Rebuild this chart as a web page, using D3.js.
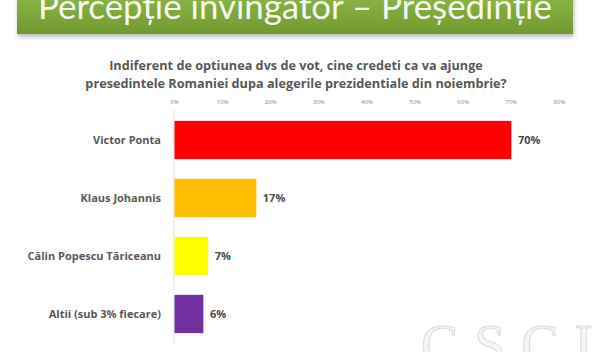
<!DOCTYPE html>
<html>
<head>
<meta charset="utf-8">
<script src="https://cdn.jsdelivr.net/npm/d3@7"></script>
<style>
  body { margin: 0; background: #fff; }
  svg { display: block; }
</style>
</head>
<body>
<div id="chart"></div>
<script>
const categories = ["Victor Ponta", "Klaus Johannis", "Călin Popescu Tăriceanu", "Altii (sub 3% fiecare)"];
const values = [70, 17, 7, 6];
const colors = ["#ff0000", "#ffc000", "#ffff00", "#7030a0"];
const ticks = [0, 10, 20, 30, 40, 50, 60, 70, 80];
const bannerTitle = "Percepție învingător – Președinție";
const question = ["Indiferent de optiunea dvs de vot, cine credeti ca va ajunge",
                  "presedintele Romaniei dupa alegerile prezidentiale din noiembrie?"];

const W = 600, H = 352;
const svg = d3.select("#chart").append("svg").attr("width", W).attr("height", H);

// banner with gradient + soft shadow
const defs = svg.append("defs");
const grad = defs.append("linearGradient").attr("id", "bg").attr("x1", 0).attr("y1", 0).attr("x2", 0).attr("y2", 1);
grad.append("stop").attr("offset", "0%").attr("stop-color", "#8fb84c");
grad.append("stop").attr("offset", "100%").attr("stop-color", "#71992f");
const blur = defs.append("filter").attr("id", "sh").attr("x", "-5%").attr("y", "-20%").attr("width", "110%").attr("height", "160%");
blur.append("feGaussianBlur").attr("stdDeviation", 2);

svg.append("rect").attr("x", 18).attr("y", -10).attr("width", 556).attr("height", 47)
    .attr("fill", "#bbb").attr("filter", "url(#sh)");
svg.append("rect").attr("x", 17).attr("y", -10).attr("width", 556).attr("height", 44)
    .attr("fill", "url(#bg)");

const bt = svg.append("text").attr("x", 38).attr("y", 19)
    .attr("fill", "#f4f8ee").attr("font-family", "Lato, 'Open Sans', sans-serif")
    .attr("font-size", 38).text(bannerTitle);
// fit banner title to width seen in the picture
const btw = bt.node().getComputedTextLength();
bt.attr("font-size", 38 * 514 / btw);

// question text
svg.append("g").selectAll("text").data(question).enter().append("text")
    .attr("x", 296).attr("y", (d, i) => 70 + i * 18)
    .attr("text-anchor", "middle")
    .attr("font-family", "'Open Sans', Lato, sans-serif")
    .attr("font-weight", "bold").attr("font-size", 12.7)
    .attr("fill", "#595959")
    .text(d => d);

// watermark
svg.append("text").attr("x", 421).attr("y", 364)
    .attr("font-family", "'Liberation Serif', 'DejaVu Serif', serif")
    .attr("font-size", 56).attr("fill", "#f5f5f5").attr("stroke", "#dadada").attr("stroke-width", 1)
    .attr("textLength", 172).text("CSCI");

const x = d3.scaleLinear().domain([0, 80]).range([174, 559]);
const y = d3.scaleBand().domain(categories).range([111, 343]).paddingInner(0.34).paddingOuter(0.17);

// top axis with tiny labels
const xAxis = svg.append("g").attr("transform", "translate(0,104)")
    .call(d3.axisTop(x).tickValues(ticks).tickFormat(d => d + "%").tickSize(0).tickPadding(0));
xAxis.select(".domain").remove();
xAxis.selectAll("text").attr("font-family", "'Open Sans', sans-serif").attr("font-size", 6)
    .attr("fill", "#8a8a8a");

// vertical axis line
svg.append("line").attr("x1", x(0)).attr("x2", x(0)).attr("y1", 110).attr("y2", 345)
    .attr("stroke", "#e3e3e3").attr("stroke-width", 1);

// bars
svg.append("g").selectAll("rect").data(values).enter().append("rect")
    .attr("x", x(0) + 0.5)
    .attr("y", (d, i) => y(categories[i]))
    .attr("width", d => x(d) - x(0))
    .attr("height", y.bandwidth())
    .attr("fill", (d, i) => colors[i]);

// value labels
svg.append("g").selectAll("text").data(values).enter().append("text")
    .attr("x", d => x(d) + 7)
    .attr("y", (d, i) => y(categories[i]) + y.bandwidth() / 2 + 4)
    .attr("font-family", "'Open Sans', sans-serif").attr("font-weight", "bold")
    .attr("font-size", 11).attr("fill", "#4a4a4a")
    .text(d => d + "%");

// category labels
svg.append("g").selectAll("text").data(categories).enter().append("text")
    .attr("x", 161)
    .attr("y", d => y(d) + y.bandwidth() / 2 + 4)
    .attr("text-anchor", "end")
    .attr("font-family", "'Open Sans', sans-serif").attr("font-weight", "bold")
    .attr("font-size", 11).attr("fill", "#595959")
    .text(d => d);
</script>
</body>
</html>
